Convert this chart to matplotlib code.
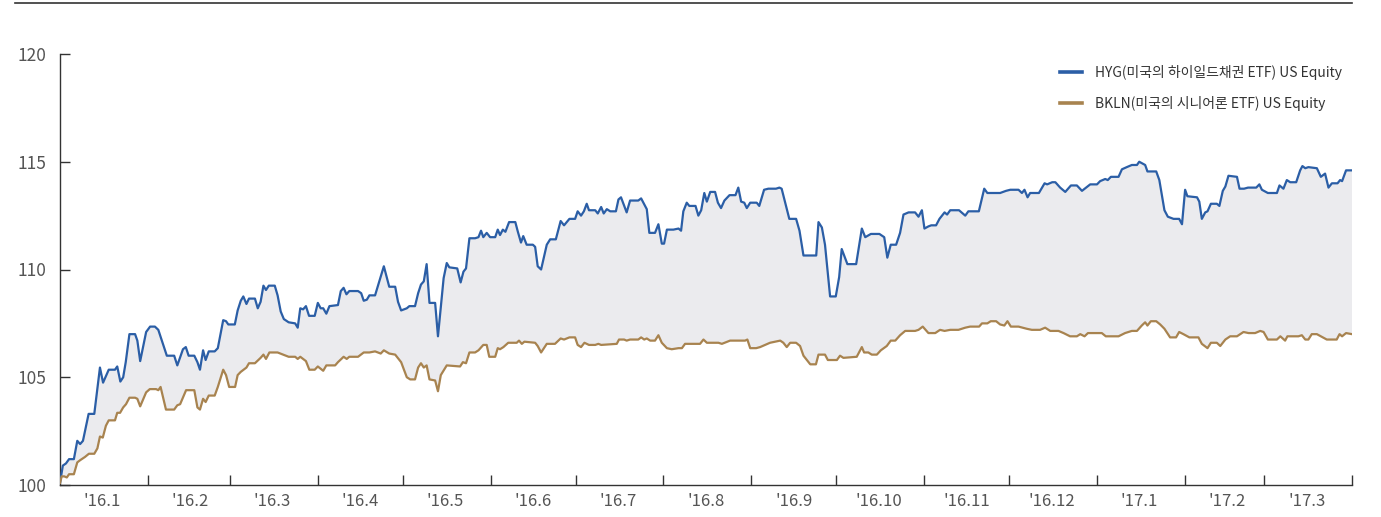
import numpy as np
import pandas as pd
import matplotlib
matplotlib.use('Agg')
import matplotlib.pyplot as plt
import matplotlib.dates as mdates
from matplotlib.lines import Line2D

plt.rcParams['font.family'] = ['Noto Sans CJK KR', 'DejaVu Sans']

# 기준일(2016-01-01)로부터 경과일, 지수(시작=100)
hyg_days = [0.0, 1.0, 2.1, 3.2, 4.9, 6.1, 7.1, 8.1, 10.1, 12.1, 14.1, 15.2, 17.2, 19.4, 20.2, 21.3,
            22.3, 23.2, 24.5, 26.5, 27.3, 28.3, 30.4, 31.8, 33.5, 34.7, 37.7, 40.3, 41.4, 43.4, 44.4,
            45.4, 47.4, 48.5, 49.4, 50.5, 51.4, 52.5, 54.6, 55.7, 57.6, 58.6, 59.4, 61.7, 62.7, 63.8,
            64.7, 65.8, 66.7, 68.8, 69.8, 70.8, 71.8, 72.7, 73.7, 75.8, 76.8, 77.9, 79.0, 80.7, 83.0,
            83.9, 84.8, 85.8, 86.8, 87.9, 89.9, 91.0, 92.0, 92.9, 94.0, 95.1, 98.1, 99.1, 100.1, 101.1,
            102.1, 105.2, 106.3, 107.2, 108.3, 109.2, 111.2, 114.3, 116.2, 118.3, 119.3, 120.4, 122.4,
            123.3, 125.3, 126.4, 127.4, 128.4, 129.4, 130.4, 132.4, 133.4, 135.4, 136.5, 137.4, 140.2,
            141.4, 142.4, 143.3, 144.5, 146.5, 147.7, 148.6, 149.4, 150.6, 151.8, 153.6, 154.5, 155.3,
            156.3, 157.2, 158.5, 160.7, 161.6, 162.7, 163.5, 164.7, 166.9, 167.7, 168.6, 169.8, 171.8,
            173.0, 175.0, 176.7, 177.9, 179.8, 181.8, 182.7, 183.9, 184.9, 185.9, 186.7, 188.9, 189.8,
            191.0, 191.9, 193.0, 194.2, 196.2, 197.1, 198.0, 200.0, 201.2, 204.1, 205.1, 207.1, 208.0,
            210.0, 211.2, 212.4, 213.2, 214.2, 216.5, 218.3, 219.2, 220.0, 221.2, 222.1, 224.3, 225.3,
            226.3, 227.4, 228.3, 229.5, 231.2, 232.2, 233.3, 234.5, 236.3, 238.4, 239.4, 240.4, 241.5,
            242.4, 243.6, 245.9, 246.8, 248.5, 250.0, 252.7, 253.9, 254.7, 257.4, 259.8, 261.0, 262.4,
            264.1, 266.9, 267.7, 268.9, 270.0, 271.8, 273.8, 275.0, 275.9, 277.9, 281.0, 283.0, 284.2,
            286.2, 289.2, 290.9, 292.0, 293.2, 295.1, 296.5, 297.7, 299.5, 301.8, 303.0, 304.2, 305.1,
            306.5, 307.5, 309.2, 310.4, 312.2, 313.1, 314.2, 317.3, 319.5, 320.6, 324.3, 326.2, 327.3,
            331.8, 333.9, 335.4, 338.3, 339.5, 340.4, 341.5, 342.4, 345.5, 347.5, 348.4, 350.2, 351.3,
            353.0, 354.8, 356.8, 358.9, 360.7, 363.6, 366.0, 367.1, 368.9, 369.8, 370.9, 373.6, 374.8,
            376.5, 378.3, 380.1, 380.9, 383.0, 383.8, 386.9, 388.0, 389.8, 391.0, 393.0, 395.0, 396.0,
            397.1, 397.9, 401.3, 402.1, 403.0, 404.2, 405.0, 406.2, 408.3, 409.2, 410.4, 411.3, 412.4,
            415.4, 416.3, 417.9, 419.3, 422.2, 423.3, 424.2, 426.3, 429.5, 430.4, 431.8, 433.0, 434.2,
            436.3, 437.7, 438.5, 439.5, 440.6, 443.6, 445.0, 446.5, 447.7, 448.9, 450.9, 451.8, 452.5,
            453.9, 456.0]
hyg_vals = [100.1, 100.9, 101.0, 101.2, 101.2, 102.05, 101.9, 102.05, 103.3, 103.3, 105.45, 104.75,
            105.35, 105.35, 105.5, 104.8, 105.0, 105.7, 107.0, 107.0, 106.7, 105.75, 107.1, 107.35,
            107.35, 107.2, 106.0, 106.0, 105.55, 106.3, 106.4, 106.0, 106.0, 105.7, 105.35, 106.25,
            105.8, 106.2, 106.2, 106.35, 107.65, 107.6, 107.45, 107.45, 108.1, 108.55, 108.75, 108.4,
            108.65, 108.65, 108.2, 108.5, 109.25, 109.05, 109.25, 109.25, 108.8, 108.05, 107.7, 107.55,
            107.5, 107.3, 108.2, 108.15, 108.3, 107.85, 107.85, 108.45, 108.2, 108.2, 107.95, 108.3,
            108.35, 109.0, 109.15, 108.85, 109.0, 109.0, 108.9, 108.55, 108.6, 108.8, 108.8, 110.15,
            109.2, 109.2, 108.5, 108.1, 108.2, 108.3, 108.3, 108.9, 109.3, 109.45, 110.25, 108.45,
            108.45, 106.9, 109.6, 110.3, 110.1, 110.05, 109.4, 109.9, 110.05, 111.45, 111.45, 111.5,
            111.8, 111.5, 111.7, 111.5, 111.5, 111.85, 111.6, 111.85, 111.75, 112.2, 112.2, 111.75,
            111.25, 111.55, 111.15, 111.15, 111.05, 110.15, 110.0, 111.15, 111.4, 111.4, 112.25,
            112.05, 112.35, 112.35, 112.7, 112.5, 112.7, 113.05, 112.75, 112.75, 112.6, 112.9, 112.6,
            112.8, 112.7, 112.7, 113.25, 113.35, 112.65, 113.2, 113.2, 113.3, 112.8, 111.7, 111.7,
            112.1, 111.2, 111.2, 111.85, 111.85, 111.9, 111.8, 112.7, 113.1, 112.95, 112.95, 112.5,
            112.75, 113.55, 113.15, 113.6, 113.6, 113.1, 112.85, 113.2, 113.45, 113.45, 113.8, 113.15,
            113.1, 112.85, 113.1, 113.1, 112.95, 113.7, 113.75, 113.75, 113.8, 113.75, 112.35, 112.35,
            111.8, 110.65, 110.65, 110.65, 112.2, 111.95, 111.15, 108.75, 108.75, 109.65, 110.95,
            110.25, 110.25, 111.9, 111.5, 111.65, 111.65, 111.5, 110.55, 111.15, 111.15, 111.7,
            112.55, 112.65, 112.65, 112.45, 112.75, 111.9, 112.0, 112.05, 112.05, 112.35, 112.65,
            112.55, 112.75, 112.75, 112.5, 112.7, 112.7, 113.75, 113.55, 113.55, 113.65, 113.7, 113.7,
            113.55, 113.7, 113.35, 113.55, 113.55, 114.0, 113.95, 114.05, 114.05, 113.8, 113.6, 113.9,
            113.9, 113.65, 113.95, 113.95, 114.1, 114.2, 114.15, 114.3, 114.3, 114.65, 114.75, 114.85,
            114.85, 115.0, 114.85, 114.55, 114.55, 114.15, 112.75, 112.45, 112.35, 112.35, 112.1,
            113.7, 113.4, 113.35, 113.15, 112.35, 112.65, 112.7, 113.05, 113.05, 112.95, 113.65,
            113.85, 114.35, 114.3, 113.75, 113.75, 113.8, 113.8, 113.95, 113.7, 113.55, 113.55, 113.9,
            113.75, 114.15, 114.05, 114.05, 114.6, 114.8, 114.7, 114.75, 114.7, 114.3, 114.45, 113.8,
            114.0, 114.0, 114.15, 114.1, 114.6, 114.6]

bkln_days = [0.0, 0.6, 1.5, 2.4, 3.2, 4.9, 6.1, 7.1, 8.8, 10.2, 12.1, 13.2, 14.1, 15.1, 16.2, 17.2,
             19.4, 20.2, 21.2, 22.3, 23.3, 24.5, 26.5, 27.3, 28.3, 30.4, 31.7, 33.9, 34.7, 35.5, 37.4,
             40.3, 41.4, 42.4, 44.5, 47.4, 48.5, 49.4, 50.5, 51.4, 52.5, 54.6, 55.7, 57.6, 58.6, 59.7,
             61.8, 62.7, 63.8, 65.8, 66.7, 68.8, 70.8, 71.8, 72.7, 73.9, 76.8, 78.8, 80.7, 83.0, 83.9,
             84.8, 86.8, 88.0, 89.9, 91.0, 92.9, 94.0, 97.1, 98.1, 100.1, 101.2, 102.1, 105.2, 107.2,
             109.2, 111.2, 113.2, 114.3, 116.2, 118.3, 120.4, 122.4, 123.6, 125.3, 126.4, 127.4, 128.4,
             129.4, 130.4, 132.4, 133.4, 134.4, 136.5, 141.2, 142.2, 143.3, 144.5, 146.5, 147.7, 149.4,
             150.6, 151.5, 153.6, 154.5, 155.3, 156.5, 158.2, 161.2, 162.0, 163.0, 163.9, 167.7, 168.6,
             169.8, 171.8, 174.7, 176.7, 177.9, 179.8, 181.8, 182.7, 183.9, 185.1, 186.7, 188.9, 190.0,
             191.0, 196.5, 197.3, 199.1, 200.0, 201.2, 204.1, 205.1, 206.2, 207.1, 208.3, 210.0, 211.2,
             212.4, 214.2, 215.9, 218.3, 219.5, 220.6, 225.9, 227.1, 228.3, 232.4, 233.6, 236.5, 241.8,
             242.6, 243.6, 245.7, 247.1, 250.6, 254.2, 255.3, 256.5, 257.7, 259.8, 261.2, 262.4, 263.6,
             264.8, 266.8, 267.7, 270.0, 271.0, 274.2, 275.3, 276.5, 281.2, 283.0, 283.8, 285.3, 286.5,
             288.3, 289.7, 291.8, 293.2, 294.8, 296.5, 298.3, 301.8, 303.0, 304.5, 306.5, 308.9, 310.6,
             312.2, 314.2, 317.1, 319.5, 321.2, 324.4, 325.4, 327.3, 328.5, 330.4, 331.8, 333.3, 334.4,
             335.6, 338.3, 341.2, 343.0, 345.9, 347.7, 349.5, 352.4, 354.2, 356.5, 358.9, 360.1, 361.6,
             362.8, 367.7, 369.1, 373.6, 375.9, 378.3, 380.1, 381.8, 383.0, 383.8, 385.0, 386.9, 388.3,
             389.8, 391.8, 393.9, 395.0, 396.5, 398.6, 401.8, 403.0, 405.0, 406.2, 408.3, 409.5, 411.3,
             413.0, 415.4, 417.7, 419.5, 421.8, 423.6, 424.8, 426.3, 429.5, 430.7, 432.4, 433.2, 437.1,
             438.3, 439.5, 440.6, 441.8, 443.6, 445.0, 447.1, 450.6, 451.6, 452.5, 453.9, 456.0]
bkln_vals = [100.1, 100.4, 100.4, 100.35, 100.5, 100.5, 101.05, 101.15, 101.3, 101.45, 101.45, 101.7,
             102.25, 102.2, 102.75, 103.0, 103.0, 103.35, 103.35, 103.6, 103.75, 104.05, 104.05, 104.0,
             103.65, 104.3, 104.45, 104.45, 104.4, 104.55, 103.5, 103.5, 103.7, 103.75, 104.4, 104.4,
             103.6, 103.5, 104.0, 103.85, 104.15, 104.15, 104.55, 105.35, 105.1, 104.55, 104.55, 105.1,
             105.25, 105.45, 105.65, 105.65, 105.9, 106.05, 105.85, 106.15, 106.15, 106.05, 105.95,
             105.95, 105.85, 105.95, 105.75, 105.35, 105.35, 105.5, 105.3, 105.55, 105.55, 105.7,
             105.95, 105.85, 105.95, 105.95, 106.15, 106.15, 106.2, 106.1, 106.25, 106.1, 106.05, 105.7,
             105.0, 104.9, 104.9, 105.45, 105.65, 105.45, 105.55, 104.9, 104.85, 104.35, 105.1, 105.55,
             105.5, 105.7, 105.65, 106.15, 106.15, 106.25, 106.5, 106.5, 105.95, 105.95, 106.35, 106.3,
             106.4, 106.6, 106.6, 106.7, 106.55, 106.65, 106.6, 106.45, 106.15, 106.55, 106.55, 106.8,
             106.75, 106.85, 106.85, 106.5, 106.4, 106.6, 106.5, 106.5, 106.55, 106.5, 106.55, 106.75,
             106.75, 106.7, 106.75, 106.75, 106.85, 106.75, 106.8, 106.7, 106.7, 106.95, 106.6, 106.35,
             106.3, 106.35, 106.35, 106.55, 106.55, 106.75, 106.6, 106.6, 106.55, 106.7, 106.7, 106.75,
             106.35, 106.35, 106.4, 106.6, 106.7, 106.6, 106.4, 106.6, 106.6, 106.45, 106.0, 105.8,
             105.6, 105.6, 106.05, 106.05, 105.8, 105.8, 106.0, 105.9, 105.95, 106.4, 106.15, 106.15,
             106.05, 106.05, 106.25, 106.45, 106.7, 106.7, 106.95, 107.15, 107.15, 107.2, 107.35,
             107.05, 107.05, 107.2, 107.15, 107.2, 107.2, 107.3, 107.35, 107.35, 107.5, 107.5, 107.6,
             107.6, 107.45, 107.4, 107.6, 107.35, 107.35, 107.25, 107.2, 107.2, 107.3, 107.15, 107.15,
             107.05, 106.9, 106.9, 107.0, 106.9, 107.05, 107.05, 106.9, 106.9, 107.05, 107.15, 107.15,
             107.4, 107.55, 107.4, 107.6, 107.6, 107.45, 107.25, 106.85, 106.85, 107.1, 107.0, 106.85,
             106.85, 106.55, 106.35, 106.6, 106.6, 106.45, 106.75, 106.9, 106.9, 107.1, 107.05, 107.05,
             107.15, 107.1, 106.75, 106.75, 106.9, 106.7, 106.9, 106.9, 106.95, 106.75, 106.75, 107.0,
             107.0, 106.9, 106.75, 106.75, 107.0, 106.9, 107.05, 107.0]

hyg_label = 'HYG(미국의 하이일드채권 ETF) US Equity'
bkln_label = 'BKLN(미국의 시니어론 ETF) US Equity'
month_labels = ["'16.1", "'16.2", "'16.3", "'16.4", "'16.5", "'16.6", "'16.7", "'16.8",
                "'16.9", "'16.10", "'16.11", "'16.12", "'17.1", "'17.2", "'17.3"]
y_ticks = [100, 105, 110, 115, 120]

blue = '#2b5ea6'
brown = '#a8834f'
fill_col = '#ebebee'
axis_col = '#333333'
text_col = '#555555'

start = pd.Timestamp('2016-01-01')
hyg_x = start + pd.to_timedelta(hyg_days, unit='D')
bkln_x = start + pd.to_timedelta(bkln_days, unit='D')

fig = plt.figure(figsize=(13.81, 5.17), dpi=100)
ax = fig.add_axes([60 / 1381, 1 - 485 / 517, 1292 / 1381, 431 / 517])

# 두 선 사이 음영
poly_x = np.concatenate([mdates.date2num(hyg_x), mdates.date2num(bkln_x)[::-1]])
poly_y = np.concatenate([hyg_vals, bkln_vals[::-1]])
ax.fill(poly_x, poly_y, color=fill_col, lw=0, zorder=1)

ax.plot(hyg_x, hyg_vals, color=blue, lw=1.6, zorder=3)
ax.plot(bkln_x, bkln_vals, color=brown, lw=1.6, zorder=3)

ax.set_xlim(start, pd.Timestamp('2017-04-01'))
ax.set_ylim(100, 120)

for s in ['top', 'right']:
    ax.spines[s].set_visible(False)
for s in ['left', 'bottom']:
    ax.spines[s].set_color(axis_col)
    ax.spines[s].set_linewidth(1.0)

# 월 경계 눈금, 월 중앙 라벨
edges = pd.date_range('2016-02-01', '2017-04-01', freq='MS')
mids = pd.date_range('2016-01-01', '2017-03-01', freq='MS') + pd.Timedelta(days=15)
ax.set_xticks(edges)
ax.set_xticklabels([''] * len(edges))
ax.set_xticks(mids, minor=True)
ax.set_xticklabels(month_labels, minor=True)
ax.tick_params(axis='x', which='major', direction='in', length=7, width=1.0, color=axis_col)
ax.tick_params(axis='x', which='minor', length=0, pad=6, labelsize=12, labelcolor=text_col)

ax.set_yticks(y_ticks)
ax.set_yticklabels([str(v) for v in y_ticks])
ax.tick_params(axis='y', direction='in', length=7, width=1.0, color=axis_col, pad=10,
               labelsize=12.5, labelcolor=text_col)

handles = [Line2D([], [], color=blue, lw=2.6), Line2D([], [], color=brown, lw=2.6)]
leg = fig.legend(handles, [hyg_label, bkln_label], loc='upper left',
                 bbox_to_anchor=(1053 / 1381, 1 - 58 / 517), frameon=False, fontsize=10,
                 handlelength=1.6, handletextpad=0.95, labelspacing=1.15, borderpad=0)
for t in leg.get_texts():
    t.set_color('#333333')

# 상단 구분선
fig.add_artist(Line2D([15 / 1381, 1352 / 1381], [1 - 3 / 517, 1 - 3 / 517],
                      color=axis_col, lw=1.2, transform=fig.transFigure))

fig.savefig('out.png', dpi=100)
